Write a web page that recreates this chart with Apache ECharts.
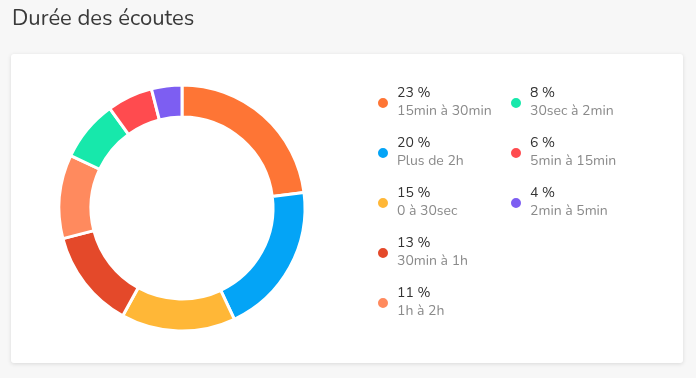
<!DOCTYPE html>
<html><head><meta charset="utf-8">
<script src="https://cdn.jsdelivr.net/npm/echarts@6/dist/echarts.min.js"></script>
<style>html,body{margin:0;padding:0;background:#f7f7f7;}#c{width:696px;height:378px;}</style>
</head><body><div id="c"></div>
<script>
const title = 'Durée des écoutes';
const categories = ['15min à 30min','Plus de 2h','0 à 30sec','30min à 1h','1h à 2h','30sec à 2min','5min à 15min','2min à 5min'];
const values = [23, 20, 15, 13, 11, 8, 6, 4];
const colors = ['#fe7535','#04a4f6','#ffb737','#e4492a','#ff8a5e','#17e8ab','#ff4b4f','#7d5ef2'];
const legendCol1 = categories.slice(0,5);
const legendCol2 = categories.slice(5);

const valueByName = {};
categories.forEach((c,i)=>valueByName[c]=values[i]);
const font = 'Nunito, Lato, "Open Sans", sans-serif';
function legend(data, left){
  return {
    data: data, orient:'vertical', left:left, top:87, padding:0,
    icon:'circle', itemWidth:12, itemHeight:12, itemGap:18,
    selectedMode:false,
    formatter: n => '{a|'+valueByName[n]+' %}\n{b|'+n+'}',
    textStyle:{ rich:{
      a:{fontSize:14, color:'#333', lineHeight:18, fontFamily:font, padding:[0,0,0,3]},
      b:{fontSize:14, color:'#8a8a8a', lineHeight:18, fontFamily:font, padding:[0,0,0,3]}
    }}
  };
}
const chart = echarts.init(document.getElementById('c'), null, {renderer:'canvas'});
chart.setOption({
  backgroundColor:'#f7f7f7',
  animation:false,
  title:{text:title, left:12, top:9, padding:0, textStyle:{fontSize:22, fontWeight:'normal', color:'#3a3a3a', fontFamily:font}},
  graphic:[{type:'rect', left:11, top:54, shape:{width:672, height:309, r:3}, z:-1,
    style:{fill:'#fff', shadowBlur:4, shadowColor:'rgba(0,0,0,0.12)', shadowOffsetY:1}}],
  legend:[legend(legendCol1,376), legend(legendCol2,509)],
  series:[{
    type:'pie', center:[182,208], radius:[91,123], startAngle:90, clockwise:true,
    label:{show:false}, labelLine:{show:false}, silent:true,
    itemStyle:{borderColor:'#fff', borderWidth:3},
    data: categories.map((c,i)=>({name:c, value:values[i], itemStyle:{color:colors[i]}}))
  }]
});
</script></body></html>
